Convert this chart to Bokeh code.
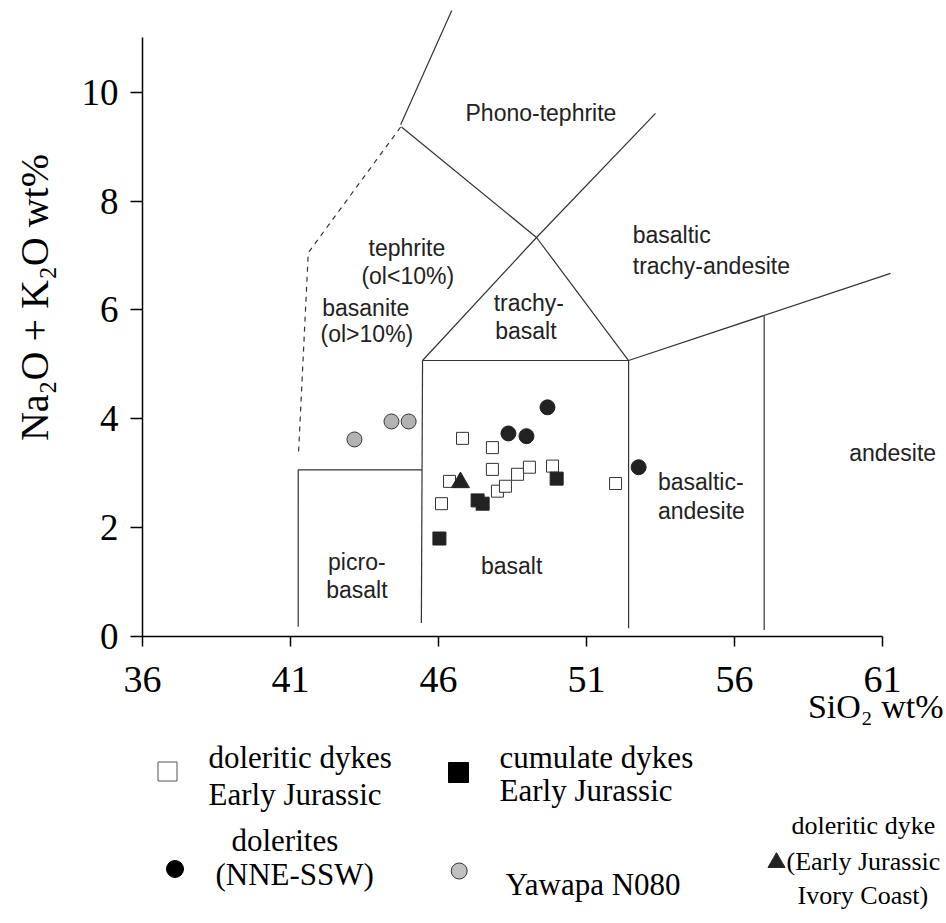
import math
from bokeh.plotting import figure
from bokeh.models import Range1d, FixedTicker, Title
from bokeh.layouts import column, row
from bokeh.embed import file_html
from bokeh.resources import INLINE
from bokeh.core.properties import value

# ---------------- data (SiO2 wt%, Na2O+K2O wt%) ----------------
doleritic_sio2 = [46.81, 47.82, 47.82, 46.37, 46.10, 47.99, 48.26, 48.67, 49.07, 49.85, 51.98]
doleritic_alk = [3.64, 3.47, 3.07, 2.85, 2.44, 2.67, 2.76, 2.98, 3.11, 3.13, 2.81]
cumulate_sio2 = [47.32, 47.49, 49.99, 46.03]
cumulate_alk = [2.50, 2.44, 2.90, 1.80]
dolerite_sio2 = [49.68, 48.36, 48.97, 52.76]
dolerite_alk = [4.21, 3.73, 3.68, 3.11]
yawapa_sio2 = [43.16, 44.41, 44.99]
yawapa_alk = [3.62, 3.95, 3.95]
ivory_sio2 = [46.74]
ivory_alk = [2.83]

x_ticks = [36, 41, 46, 51, 56, 61]
y_ticks = [0, 2, 4, 6, 8, 10]

# TAS field boundaries (solid)
bound_xs = [
    [46.48, 44.72],
    [44.75, 49.31, 53.33],
    [45.46, 49.31, 52.42],
    [45.46, 52.42],
    [45.46, 45.42],
    [52.42, 52.42],
    [41.26, 41.26, 45.44],
    [52.42, 61.27],
    [57.0, 57.0],
]
bound_ys = [
    [11.54, 9.40],
    [9.36, 7.33, 9.61],
    [5.07, 7.33, 5.07],
    [5.07, 5.07],
    [5.07, 0.25],
    [5.07, 0.15],
    [0.18, 3.06, 3.06],
    [5.07, 6.67],
    [5.90, 0.12],
]
dash_x = [44.72, 41.60, 41.27]
dash_y = [9.36, 7.05, 3.36]

field_text = ["Phono-tephrite", "tephrite", "(ol<10%)", "basanite", "(ol>10%)",
              "trachy-", "basalt", "andesite", "picro-", "basalt", "basalt"]
field_x = [49.46, 44.93, 44.96, 43.54, 43.58, 49.05, 48.95, 61.34, 43.24, 43.24, 48.47]
field_y = [9.61, 7.13, 6.63, 6.04, 5.55, 6.12, 5.62, 3.38, 1.36, 0.85, 1.30]
field_left_text = ["basaltic", "trachy-andesite", "basaltic-", "andesite"]
field_left_x = [52.56, 52.56, 53.41, 53.41]
field_left_y = [7.37, 6.80, 2.83, 2.31]

y_label = "Na\u2082O + K\u2082O wt%"
x_label = "SiO\u2082 wt%"

legend_text = ["doleritic dykes", "Early Jurassic", "cumulate dykes", "Early Jurassic",
               "dolerites", "(NNE-SSW)", "Yawapa N080"]
legend_text_right = ["doleritic dyke", "(Early Jurassic", "Ivory Coast)"]

SERIF = value("Liberation Serif")
SANS = value("Liberation Sans")
INK = "#222222"

TOP_H = 730          # top row: y-label strip + TAS plot (frame bottom at 636)
LAB_W = 70
PAGE_W = 944
PAGE_H = 921

# ---------------- y label strip ----------------
yl = figure(width=LAB_W, height=TOP_H, x_range=Range1d(0, LAB_W), y_range=Range1d(636, 10),
            output_backend="svg", toolbar_location=None, x_axis_type=None, y_axis_type=None,
            min_border_left=0, min_border_right=0, min_border_top=10,
            min_border_bottom=TOP_H - 636)
yl.outline_line_color = None
yl.grid.visible = False
yl.text(x=[34], y=[297], text=[y_label], angle=math.pi / 2, text_font=SERIF,
        text_font_size="40px", text_color="black", text_align="center",
        text_baseline="middle")

# ---------------- main TAS plot ----------------
p = figure(width=PAGE_W - LAB_W, height=TOP_H, x_range=Range1d(36, 62.99),
           y_range=Range1d(0, 11.5), output_backend="svg", toolbar_location=None,
           min_border_left=142 - LAB_W, min_border_right=3, min_border_top=10,
           min_border_bottom=TOP_H - 636)
p.outline_line_color = None
p.grid.visible = False

for ax, bounds, ticks in ((p.xaxis, (36, 61), x_ticks), (p.yaxis, (0, 11), y_ticks)):
    ax.bounds = bounds
    ax.ticker = FixedTicker(ticks=ticks)
    ax.minor_tick_line_color = None
    ax.major_tick_in = 0
    ax.axis_line_color = "black"
    ax.axis_line_width = 1.5
    ax.major_tick_line_color = "black"
    ax.major_tick_line_width = 1.5
    ax.major_label_text_font = "Liberation Serif"
    ax.major_label_text_color = "black"
p.xaxis.major_tick_out = 10
p.xaxis.major_label_standoff = 20
p.xaxis.major_label_text_font_size = "38px"
p.yaxis.major_tick_out = 12
p.yaxis.major_label_standoff = 12
p.yaxis.major_label_text_font_size = "37px"

# x-axis title, right-aligned under the axis end
p.add_layout(Title(text=x_label, align="right", vertical_align="top", offset=-2,
                   standoff=-14, text_font="Liberation Serif", text_font_style="normal",
                   text_font_size="34px", text_color="black"), "below")

p.multi_line(xs=bound_xs, ys=bound_ys, line_color="#333333", line_width=1.2)
p.line(dash_x, dash_y, line_color="#333333", line_width=1.2, line_dash="5 5")

p.text(x=field_x, y=field_y, text=field_text, text_font=SANS, text_font_size="23px",
       text_color=INK, text_align="center", text_baseline="middle")
p.text(x=field_left_x, y=field_left_y, text=field_left_text, text_font=SANS,
       text_font_size="23px", text_color=INK, text_align="left", text_baseline="middle")

p.scatter(doleritic_sio2, doleritic_alk, marker="square", size=12,
          fill_color="white", line_color="#333333", line_width=1)
p.scatter(cumulate_sio2, cumulate_alk, marker="square", size=13,
          fill_color=INK, line_color=INK)
p.scatter(dolerite_sio2, dolerite_alk, marker="circle", size=15,
          fill_color=INK, line_color=INK)
p.scatter(yawapa_sio2, yawapa_alk, marker="circle", size=15,
          fill_color="#b3b3b3", line_color="#333333", line_width=1)
p.scatter(ivory_sio2, ivory_alk, marker="triangle", size=18,
          fill_color=INK, line_color=INK)

# ---------------- legend panel (page-pixel coordinates) ----------------
lg = figure(width=PAGE_W, height=PAGE_H - TOP_H, x_range=Range1d(142, PAGE_W),
            y_range=Range1d(PAGE_H, TOP_H), output_backend="svg", toolbar_location=None,
            x_axis_type=None, y_axis_type=None,
            min_border_left=142, min_border_right=0, min_border_top=0, min_border_bottom=0)
lg.outline_line_color = None
lg.grid.visible = False

legend_tx = [208, 208, 499, 499, 231, 215, 505]
legend_ty = [757, 794, 757, 790, 840, 874, 884]
lg.text(x=legend_tx, y=legend_ty, text=legend_text, text_font=SERIF, text_font_size="31px",
        text_color="black", text_align="left", text_baseline="middle")
legend_rx = [791, 786, 797]
legend_ry = [825, 861, 895]
lg.text(x=legend_rx, y=legend_ry, text=legend_text_right, text_font=SERIF,
        text_font_size="26px", text_color="black", text_align="left", text_baseline="middle")

lg.scatter([167], [771], marker="square", size=19, fill_color="white",
           line_color="#555555", line_width=1)
lg.scatter([458], [772], marker="square", size=20, fill_color="black", line_color="black")
lg.scatter([174.5], [868.5], marker="circle", size=17, fill_color="black", line_color="black")
lg.scatter([458.7], [870.5], marker="circle", size=16, fill_color="#c0c0c0",
           line_color="#333333", line_width=1)
lg.scatter([776], [862], marker="triangle", size=17, fill_color=INK, line_color=INK)

layout = column(row(yl, p, spacing=0), lg, spacing=0)
open("out.html", "w").write(file_html(layout, INLINE))
